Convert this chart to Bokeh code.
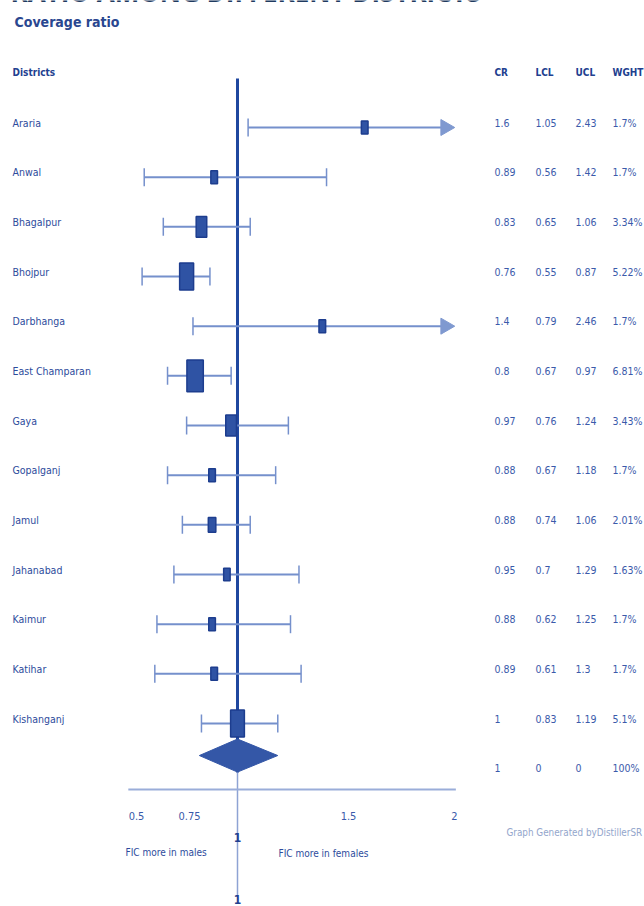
import numpy as np
from bokeh.plotting import figure
from bokeh.models import Range1d
from bokeh.core.properties import value
from bokeh.embed import file_html
from bokeh.resources import INLINE

# ---------------- data ----------------
districts = ["Araria", "Anwal", "Bhagalpur", "Bhojpur", "Darbhanga", "East Champaran",
             "Gaya", "Gopalganj", "Jamul", "Jahanabad", "Kaimur", "Katihar", "Kishanganj"]
cr = [1.6, 0.89, 0.83, 0.76, 1.4, 0.8, 0.97, 0.88, 0.88, 0.95, 0.88, 0.89, 1]
lcl = [1.05, 0.56, 0.65, 0.55, 0.79, 0.67, 0.76, 0.67, 0.74, 0.7, 0.62, 0.61, 0.83]
ucl = [2.43, 1.42, 1.06, 0.87, 2.46, 0.97, 1.24, 1.18, 1.06, 1.29, 1.25, 1.3, 1.19]
wght = [1.7, 1.7, 3.34, 5.22, 1.7, 6.81, 3.43, 1.7, 2.01, 1.63, 1.7, 1.7, 5.1]

pooled_cr = 1
pooled_lcl = 0
pooled_ucl = 0
pooled_wght = 100
diamond_low = 0.82
diamond_high = 1.19

tick_values = [0.5, 0.75, 1.5, 2]
ref_value = 1
col_headers = ["CR", "LCL", "UCL", "WGHT"]

# ---------------- layout helpers ----------------
W, H = 644, 906
X0_PAGE = 237.0     # page x of value 1
PX_PER_UNIT = 212.0


def px2v(px):
    return 1 + (px - X0_PAGE) / PX_PER_UNIT


xmax = max(tick_values)
ROW0, STEP = 127.0, 49.67
n = len(districts)
row_y = [ROW0 + STEP * i for i in range(n)]
text_y = [y - 5 for y in row_y]

DARK = "#22408f"
TXT = "#2d4b9c"
VAL = "#3a5aaa"
CI = "#7590cc"
MARK = "#2f53a4"
MARK_LINE = "#1d3d8e"
NARROW = value("DejaVu Sans Condensed")
FS = "10.5px"

p = figure(width=W, height=H, output_backend="svg", toolbar_location=None,
           x_range=Range1d(px2v(0), px2v(W)), y_range=Range1d(H, 0),
           min_border=0)
p.axis.visible = False
p.grid.visible = False
p.outline_line_color = None
p.background_fill_color = "white"

# clipped page heading (only its lower edge shows, as in the source)
p.text(x=[px2v(10)], y=[9], text=["RATIO AMONG DIFFERENT DISTRICTS"],
       text_font=value("Open Sans"), text_font_size="26px", text_font_style="bold",
       text_color="#1f3a5f", text_baseline="bottom", text_align="left")

# title
p.text(x=[px2v(14)], y=[21], text=["Coverage ratio"], text_font=NARROW,
       text_font_size="14px", text_font_style="bold", text_color="#2a4790",
       text_baseline="middle", text_align="left")

# headers
p.text(x=[px2v(12)], y=[72], text=["Districts"], text_font=NARROW,
       text_font_size="10px", text_font_style="bold", text_color=DARK,
       text_baseline="middle", text_align="left")
col_x = [px2v(494), px2v(535), px2v(575), px2v(612)]
p.text(x=col_x, y=[72] * 4, text=col_headers, text_font=NARROW,
       text_font_size="10px", text_font_style="bold", text_color=DARK,
       text_baseline="middle", text_align="left")

# reference line
ref_top, ref_bottom = 78, 772
p.segment(x0=[ref_value], y0=[ref_top], x1=[ref_value], y1=[ref_bottom],
          line_color="#1f479f", line_width=3)
p.segment(x0=[ref_value], y0=[ref_bottom], x1=[ref_value], y1=[895],
          line_color="#8ea3d4", line_width=1.5)

# CI lines
hi = [min(u, xmax) for u in ucl]
p.segment(x0=lcl, y0=row_y, x1=hi, y1=row_y, line_color=CI, line_width=2)
p.segment(x0=lcl, y0=[y - 9 for y in row_y], x1=lcl, y1=[y + 9 for y in row_y],
          line_color=CI, line_width=1.5)
cap_x = [u for u in ucl if u <= xmax]
cap_y = [row_y[i] for i, u in enumerate(ucl) if u <= xmax]
p.segment(x0=cap_x, y0=[y - 9 for y in cap_y], x1=cap_x, y1=[y + 9 for y in cap_y],
          line_color=CI, line_width=1.5)
arr_y = [row_y[i] for i, u in enumerate(ucl) if u > xmax]
p.scatter(x=[xmax - 4 / PX_PER_UNIT] * len(arr_y), y=arr_y, marker="triangle", size=16,
          angle=-np.pi / 2, fill_color="#7f99d0", line_color="#7f99d0")

# weighted markers
sq = np.sqrt(np.array(wght))
mh = 14.5 * sq - 5.9
mw = mh / 1.95
p.rect(x=cr, y=row_y, width=mw, height=mh, width_units="screen",
       height_units="screen", fill_color=MARK, line_color=MARK_LINE, line_width=1.5)

# pooled diamond
dy = ROW0 + STEP * (n - 1) + 32
p.patch(x=[diamond_low, pooled_cr, diamond_high, pooled_cr],
        y=[dy, dy - 16.5, dy, dy + 16.5], fill_color="#3457a7", line_color="#3457a7")

# district labels
p.text(x=[px2v(12)] * n, y=text_y, text=districts, text_font=NARROW,
       text_font_size=FS, text_color=TXT, text_baseline="middle", text_align="left")


def fmt(v):
    return f"{v:g}"


for j, col in enumerate([cr, lcl, ucl]):
    p.text(x=[col_x[j]] * n, y=text_y, text=[fmt(v) for v in col], text_font=NARROW,
           text_font_size=FS, text_color=VAL, text_baseline="middle", text_align="left")
p.text(x=[col_x[3]] * n, y=text_y, text=[fmt(v) + "%" for v in wght], text_font=NARROW,
       text_font_size=FS, text_color=VAL, text_baseline="middle", text_align="left")
sum_y = dy + 12
p.text(x=col_x, y=[sum_y] * 4,
       text=[fmt(pooled_cr), fmt(pooled_lcl), fmt(pooled_ucl), fmt(pooled_wght) + "%"],
       text_font=NARROW, text_font_size=FS, text_color=VAL,
       text_baseline="middle", text_align="left")

# x axis line
axis_y = 789
p.segment(x0=[min(tick_values) - 0.015], y0=[axis_y], x1=[max(tick_values) + 0.03], y1=[axis_y],
          line_color="#9aadd9", line_width=2)

# tick labels
p.text(x=[t + 5 / PX_PER_UNIT for t in tick_values], y=[815] * len(tick_values),
       text=[fmt(t) for t in tick_values], text_font=NARROW, text_font_size="11px",
       text_color=VAL, text_baseline="middle", text_align="center")
p.text(x=[ref_value], y=[837], text=[fmt(ref_value)], text_font=NARROW,
       text_font_size="12px", text_font_style="bold", text_color=DARK,
       text_baseline="middle", text_align="center")
p.text(x=[ref_value], y=[899], text=[fmt(ref_value)], text_font=NARROW,
       text_font_size="12px", text_font_style="bold", text_color=DARK,
       text_baseline="middle", text_align="center")

# direction labels
p.text(x=[px2v(125)], y=[852], text=["FIC more in males"], text_font=NARROW,
       text_font_size="10px", text_color=TXT, text_baseline="middle", text_align="left")
p.text(x=[px2v(278)], y=[853], text=["FIC more in females"], text_font=NARROW,
       text_font_size="10px", text_color=TXT, text_baseline="middle", text_align="left")

# credit
p.text(x=[px2v(506)], y=[832], text=["Graph Generated byDistillerSR"], text_font=NARROW,
       text_font_size="9.8px", text_color="#93a6cc", text_baseline="middle", text_align="left")

open("out.html", "w").write(file_html(p, INLINE))
